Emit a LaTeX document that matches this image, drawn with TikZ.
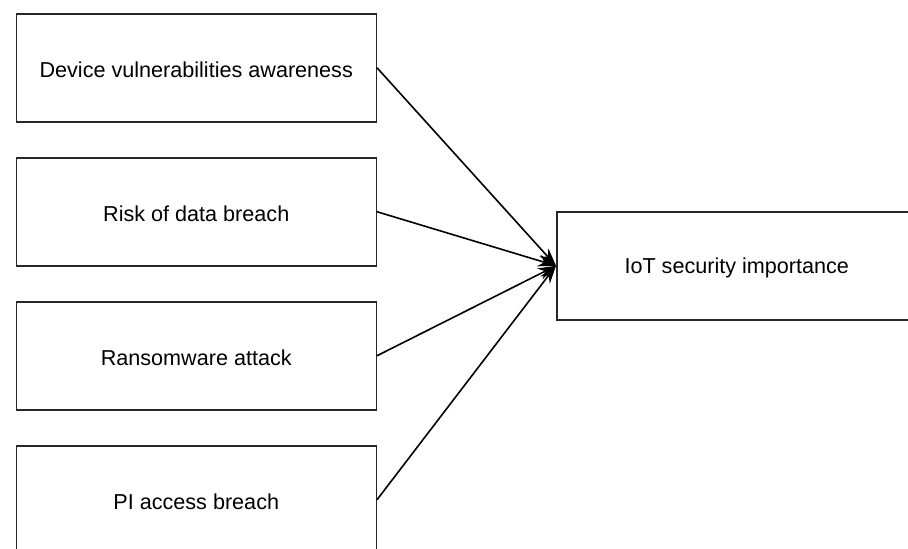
\documentclass[tikz,border=0pt]{standalone}
\usepackage{fontspec}
\setmainfont{Liberation Sans}
\usetikzlibrary{arrows.meta}
\begin{document}
\begin{tikzpicture}[x=1pt,y=-1pt,
  box/.style={draw=black!85,line width=1.5pt,minimum width=360pt,minimum height=108pt,inner sep=0pt,anchor=north west},
  lbl/.style={font=\fontsize{21.6}{25}\selectfont,inner sep=0pt,yshift=-2pt},
  conn/.style={line width=1.6pt,-{Stealth[length=18pt,width=12pt]}}]
\useasboundingbox (0,0) rectangle (908,549);
\clip (0,0) rectangle (908,549);
\node[box] (a) at (15.5,13) {};
\node[box] (b) at (15.5,157) {};
\node[box] (c) at (15.5,301) {};
\node[box] (d) at (15.5,445) {};
\node[box,minimum width=370pt] (t) at (556,211) {};
\node[lbl] (la) at (a.center) {Device vulnerabilities awareness};
\node[lbl] (lb) at (b.center) {Risk of data breach};
\node[lbl] (lc) at (c.center) {Ransomware attack};
\node[lbl] (ld) at (d.center) {PI access breach};
\node[lbl] (lt) at ([xshift=-5pt]t.center) {IoT security importance};
\coordinate (tin) at (t.west);
\draw[conn] (a.east) -- (tin);
\draw[conn] (b.east) -- (tin);
\draw[conn] (c.east) -- (tin);
\draw[conn] (d.east) -- (tin);
\end{tikzpicture}
\end{document}
